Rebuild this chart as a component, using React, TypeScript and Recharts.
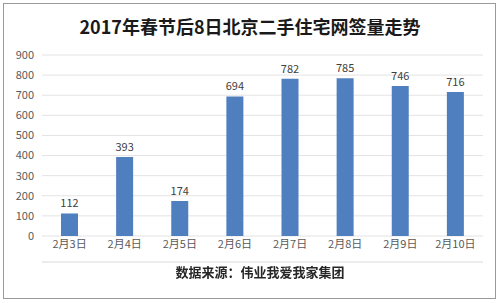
import { BarChart, Bar, XAxis, YAxis, CartesianGrid, LabelList } from "recharts";

const days = ["2月3日", "2月4日", "2月5日", "2月6日", "2月7日", "2月8日", "2月9日", "2月10日"];
const deals = [112, 393, 174, 694, 782, 785, 746, 716];
const yTicks = [0, 100, 200, 300, 400, 500, 600, 700, 800, 900];
const boundaryTicks = [0, 1, 2, 3, 4, 5, 6, 7, 8];

const data = days.map((day, i) => ({ day, deals: deals[i] }));

const font = "'Noto Sans CJK SC', 'Noto Sans', sans-serif";

export default function App() {
  return (
    <div style={{ position: "fixed", left: 0, top: 0, width: 500, height: 303, background: "#fff", fontFamily: font }}>
      {/* frame */}
      <div
        style={{
          position: "absolute",
          left: 3,
          top: 3,
          width: 491,
          height: 294,
          border: "1px solid #9a9a9a",
        }}
      />
      <div
        style={{
          position: "absolute",
          left: 0,
          top: 13,
          width: 500,
          textAlign: "center",
          fontSize: 18,
          fontWeight: 700,
          color: "#1a1a1a",
        }}
      >
        2017年春节后8日北京二手住宅网签量走势
      </div>
      <div style={{ position: "absolute", left: 0, top: 0 }}>
        <BarChart width={500} height={303} data={data} margin={{ top: 55, right: 17, bottom: 37, left: 12 }}>
          <CartesianGrid vertical={false} stroke="#e3e3e3" />
          {/* boundary tick marks between categories */}
          <XAxis
            xAxisId="edges"
            type="number"
            domain={[0, 8]}
            ticks={boundaryTicks}
            height={4}
            tick={false}
            tickSize={4}
            tickLine={{ stroke: "#d9d9d9" }}
            axisLine={{ stroke: "#d9d9d9" }}
          />
          <XAxis
            dataKey="day"
            height={26}
            tick={{ fill: "#595959", fontSize: 11, fontFamily: font }}
            axisLine={false}
            tickLine={false}
            tickSize={2}
            interval={0}
          />
          <YAxis
            width={30}
            domain={[0, 900]}
            ticks={yTicks}
            tick={{ fill: "#595959", fontSize: 11, fontFamily: font }}
            axisLine={false}
            tickLine={false}
            interval={0}
          />
          <Bar dataKey="deals" fill="#4f7fbe" barSize={17} isAnimationActive={false}>
            <LabelList dataKey="deals" position="top" offset={6} fill="#404040" fontSize={11} fontFamily={font} />
          </Bar>
        </BarChart>
      </div>
      <div
        style={{
          position: "absolute",
          left: 0,
          top: 262,
          width: 520,
          textAlign: "center",
          fontSize: 13,
          fontWeight: 700,
          color: "#262626",
        }}
      >
        数据来源：伟业我爱我家集团
      </div>
    </div>
  );
}
